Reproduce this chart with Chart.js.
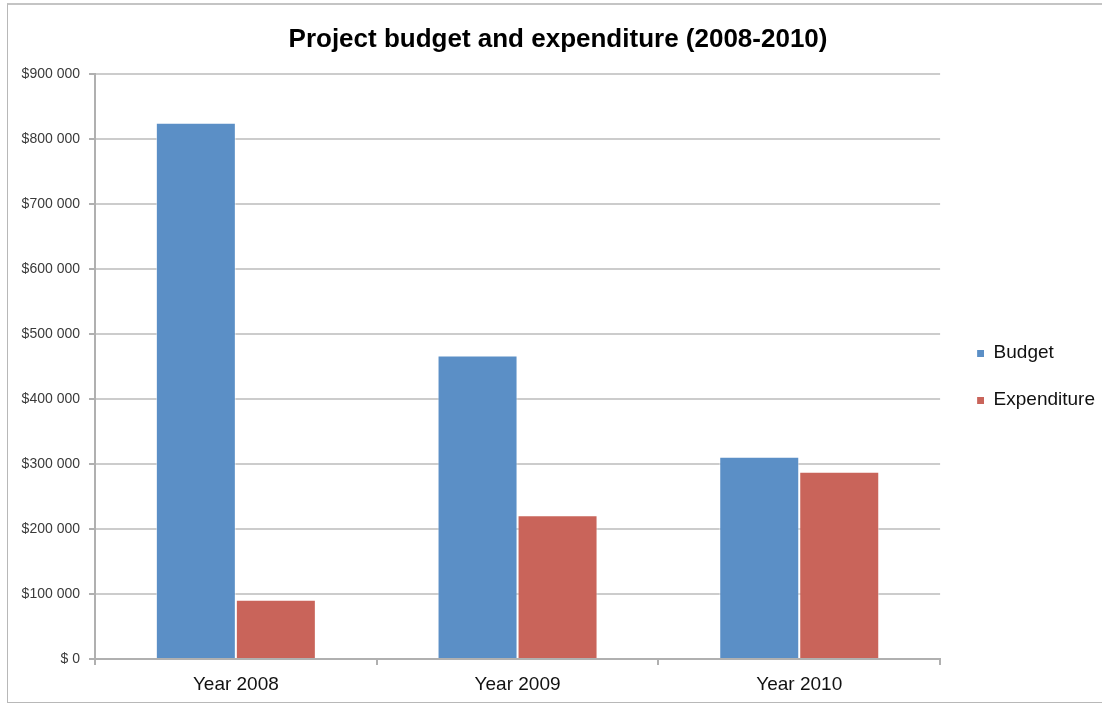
<!DOCTYPE html>
<html>
<head>
<meta charset="utf-8">
<title>Project budget and expenditure</title>
<script src="https://cdn.jsdelivr.net/npm/chart.js@4/dist/chart.umd.min.js"></script>
<style>
  html, body { margin: 0; padding: 0; background: #ffffff; overflow: hidden; }
  #frame {
    position: absolute; left: 7px; top: 3px; width: 1110px; height: 697px;
    border: 1px solid #b8b8b8; border-top: 2px solid #c4c4c4;
  }
  #wrap { position: absolute; left: 0; top: 0; width: 1110px; height: 704px; }
</style>
</head>
<body>
<div id="frame"></div>
<div id="wrap"><canvas id="chart" width="1110" height="704" style="width:1110px;height:704px"></canvas></div>
<script>
// Dati
const categories = ["Year 2008", "Year 2009", "Year 2010"];
const budget = [825000, 467000, 311000];
const expenditure = [91000, 221000, 288000];
const yTickLabels = ["$ 0", "$100 000", "$200 000", "$300 000", "$400 000",
  "$500 000", "$600 000", "$700 000", "$800 000", "$900 000"];
const seriesColors = ["#5b8fc6", "#c9645a"];

const fontFamily = "'Liberation Sans', Arial, Helvetica, sans-serif";

// Marcatore della legenda: quadratino spostato a destra
function makeMarker(color) {
  const c = document.createElement("canvas");
  c.width = 16;
  c.height = 7;
  const g = c.getContext("2d");
  g.fillStyle = color;
  g.fillRect(9, 0, 7, 7);
  return c;
}
const markers = seriesColors.map(makeMarker);

const ctx = document.getElementById("chart").getContext("2d");
const myChart = new Chart(ctx, {
  type: "bar",
  data: {
    labels: categories,
    datasets: [
      {
        label: "Budget",
        data: budget,
        backgroundColor: seriesColors[0],
        borderColor: "rgba(255,255,255,0.55)",
        borderWidth: 1,
      },
      {
        label: "Expenditure",
        data: expenditure,
        backgroundColor: seriesColors[1],
        borderColor: "rgba(255,255,255,0.55)",
        borderWidth: 1,
      },
    ],
  },
  options: {
    responsive: false,
    animation: false,
    categoryPercentage: 0.568,
    barPercentage: 1.0,
    layout: { padding: { left: 11, right: 5, top: 0, bottom: 0 } },
    plugins: {
      title: {
        display: true,
        text: "Project budget and expenditure (2008-2010)",
        color: "#000000",
        font: { family: fontFamily, size: 26, weight: "bold" },
        padding: { top: 24, bottom: 18.8 },
      },
      legend: {
        position: "right",
        title: {
          display: true,
          text: "",
          font: { size: 10 },
          padding: { top: 37, bottom: 0 },
        },
        labels: {
          usePointStyle: true,
          pointStyleWidth: 16,
          boxHeight: 7,
          padding: 28,
          color: "#111111",
          font: { family: fontFamily, size: 19 },
          generateLabels: function (chart) {
            const items = Chart.defaults.plugins.legend.labels.generateLabels(chart);
            items.forEach(function (item, i) {
              item.pointStyle = markers[i];
            });
            return items;
          },
        },
      },
      tooltip: { enabled: false },
    },
    scales: {
      x: {
        offset: true,
        grid: {
          drawOnChartArea: false,
          drawTicks: true,
          tickLength: 6,
          color: "#b0b0b0",
          lineWidth: 2,
        },
        border: { color: "#b0b0b0", width: 2 },
        ticks: {
          color: "#111111",
          padding: 8,
          font: { family: fontFamily, size: 19 },
        },
        afterFit: function (scale) {
          scale.height = 45;
        },
      },
      y: {
        min: 0,
        max: 900000,
        grid: {
          color: "#cccccc",
          lineWidth: 2,
          tickLength: 6,
          tickColor: "#b0b0b0",
        },
        border: { color: "#b0b0b0", width: 2 },
        ticks: {
          stepSize: 100000,
          color: "#3a3a3a",
          padding: 9,
          font: { family: fontFamily, size: 14 },
          callback: function (value, index) {
            return yTickLabels[index];
          },
        },
        afterFit: function (scale) {
          scale.width = 84;
        },
      },
    },
  },
});
</script>
</body>
</html>
